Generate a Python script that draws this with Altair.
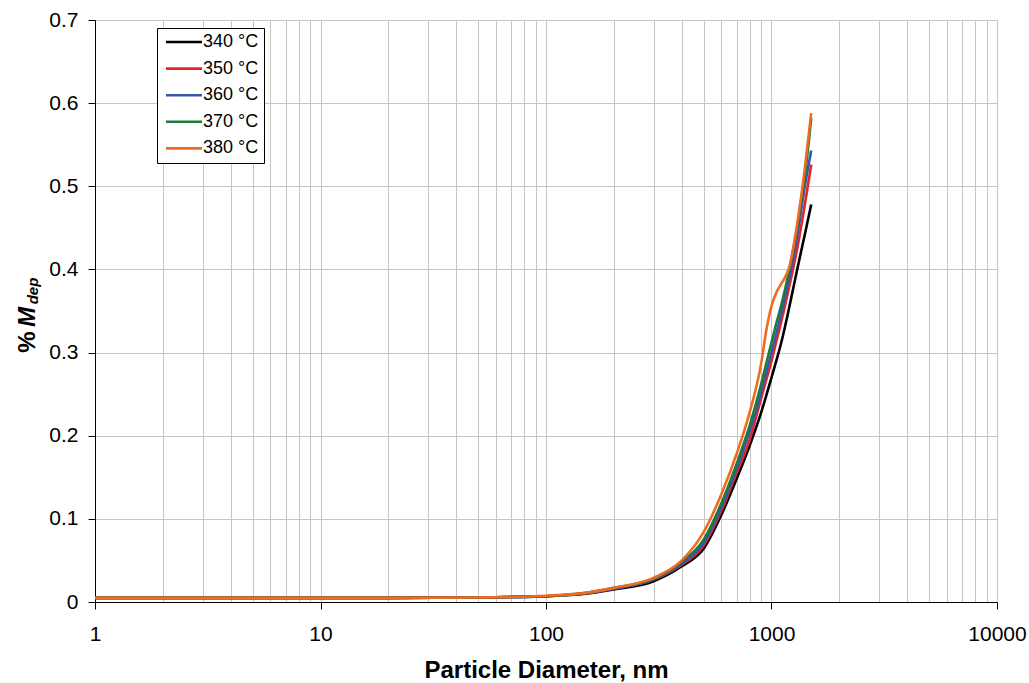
import altair as alt
import pandas as pd

# ---- data ----
x_nm = [1, 2, 5, 10, 20, 50, 70, 100, 150, 200, 300, 400, 500, 600, 700, 800,
        900, 950, 1000, 1050, 1100, 1200, 1300, 1400, 1500]

m_340 = [0.005, 0.005, 0.005, 0.005, 0.005, 0.0055, 0.006, 0.007, 0.010, 0.015, 0.025,
         0.043, 0.064, 0.105, 0.148, 0.188, 0.228, 0.249, 0.270, 0.290, 0.310, 0.355,
         0.400, 0.440, 0.478]
m_350 = [0.005, 0.005, 0.005, 0.005, 0.005, 0.0055, 0.006, 0.007, 0.0105, 0.016, 0.027,
         0.045, 0.068, 0.110, 0.155, 0.195, 0.245, 0.268, 0.290, 0.313, 0.335, 0.380,
         0.425, 0.475, 0.526]
m_360 = [0.005, 0.005, 0.005, 0.005, 0.005, 0.0055, 0.006, 0.007, 0.0105, 0.016, 0.027,
         0.046, 0.071, 0.114, 0.160, 0.205, 0.252, 0.277, 0.300, 0.323, 0.345, 0.390,
         0.440, 0.497, 0.543]
m_370 = [0.005, 0.005, 0.005, 0.005, 0.005, 0.0055, 0.006, 0.007, 0.011, 0.017, 0.028,
         0.048, 0.075, 0.119, 0.166, 0.212, 0.262, 0.288, 0.312, 0.335, 0.355, 0.400,
         0.450, 0.508, 0.582]
m_380 = [0.005, 0.005, 0.005, 0.005, 0.005, 0.0055, 0.006, 0.0075, 0.011, 0.017, 0.029,
         0.050, 0.084, 0.130, 0.178, 0.228, 0.287, 0.328, 0.356, 0.372, 0.382, 0.403,
         0.455, 0.518, 0.588]

series_names = ["340 °C", "350 °C", "360 °C", "370 °C", "380 °C"]
series_values = [m_340, m_350, m_360, m_370, m_380]
series_colors = ["#000000", "#E8232A", "#3A56A8", "#1B7B3C", "#F26A22"]

x_decades = [1, 10, 100, 1000, 10000]
x_grid = [m * 10 ** k for k in range(4) for m in range(1, 10)] + [10000]
y_ticks = [0, 0.1, 0.2, 0.3, 0.4, 0.5, 0.6, 0.7]

x_title = "Particle Diameter, nm"
y_title_parts = ["%", "M", "dep"]

FONT = "Liberation Sans"

rows = []
for name, vals in zip(series_names, series_values):
    for d, v in zip(x_nm, vals):
        rows.append({"d": d, "m": v, "s": name})
df = pd.DataFrame(rows)

dec_test = " || ".join(f"datum.value == {v}" for v in x_decades)

lines = alt.Chart(df).mark_line(strokeWidth=2.6, interpolate="monotone").encode(
    x=alt.X("d:Q",
            scale=alt.Scale(type="log", domain=[1, 10000]),
            axis=alt.Axis(values=x_grid, format="d",
                          labelExpr=f"({dec_test}) ? datum.label : ''",
                          grid=True, gridColor="#c6c6c6", gridWidth=1,
                          domainColor="black", domainWidth=1,
                          tickColor="black", tickSize=7,
                          tickOpacity={"condition": {"test": dec_test, "value": 1}, "value": 0},
                          labelFont=FONT, labelFontSize=21, labelColor="black",
                          labelPadding=14, labelFlush=False, labelOverlap=False,
                          title=x_title, titleFont=FONT, titleFontSize=24,
                          titleFontWeight="bold", titleColor="black", titlePadding=14)),
    y=alt.Y("m:Q",
            scale=alt.Scale(domain=[0, 0.7]),
            axis=alt.Axis(values=y_ticks, format=".1~f",
                          grid=True, gridColor="#c6c6c6", gridWidth=1,
                          domainColor="black", domainWidth=1,
                          tickColor="black", tickSize=7,
                          labelFont=FONT, labelFontSize=21, labelColor="black",
                          labelPadding=10, title=None)),
    color=alt.Color("s:N",
                    scale=alt.Scale(domain=series_names, range=series_colors),
                    title=None,
                    legend=alt.Legend(orient="none", legendX=62, legendY=8,
                                      symbolType="M-3.6,0H3.6", symbolSize=100,
                                      symbolStrokeWidth=2.6, symbolOffset=13,
                                      labelFont=FONT, labelFontSize=18, labelColor="black",
                                      labelOffset=10, strokeColor="black", fillColor="white",
                                      padding=5, rowPadding=8.6)),
)

pct = alt.Chart(pd.DataFrame({"t": [y_title_parts[0]]})).mark_text(
    angle=270, align="center", baseline="alphabetic", font=FONT, fontSize=24,
    fontWeight="bold", color="black").encode(
    text="t:N", x=alt.value(-60), y=alt.value(322))
mm = alt.Chart(pd.DataFrame({"t": [y_title_parts[1]]})).mark_text(
    angle=270, align="center", baseline="alphabetic", font=FONT, fontSize=24,
    fontWeight="bold", fontStyle="italic", color="black").encode(
    text="t:N", x=alt.value(-60), y=alt.value(297))
dep = alt.Chart(pd.DataFrame({"t": [y_title_parts[2]]})).mark_text(
    angle=270, align="center", baseline="alphabetic", font=FONT, fontSize=15,
    fontWeight="bold", fontStyle="italic", color="black").encode(
    text="t:N", x=alt.value(-57.5), y=alt.value(271))

chart = alt.layer(lines, pct, mm, dep).properties(
    width=902, height=582,
    autosize=alt.AutoSizeParams(type="none"),
    padding={"left": 95, "top": 20, "right": 32, "bottom": 81},
    background="white",
).configure_view(strokeWidth=0)

chart.save("out.html", embed_options={"renderer": "svg", "actions": False})
